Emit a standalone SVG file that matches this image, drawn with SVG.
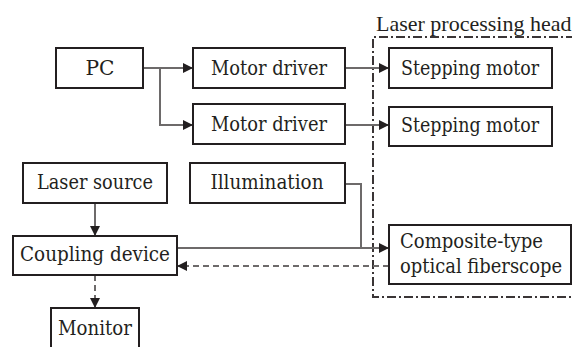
<svg xmlns="http://www.w3.org/2000/svg" width="572" height="347" viewBox="0 0 572 347">
<defs>
<marker id="ah" markerUnits="userSpaceOnUse" markerWidth="10" markerHeight="10" viewBox="0 0 10 10" refX="10" refY="5" orient="auto">
<path d="M0,0 L10,5 L0,10 Z" fill="#231f20"/>
</marker>
<style>
.box{fill:#fff;stroke:#231f20;stroke-width:2}
.t{font-family:"DejaVu Serif","Liberation Serif",serif;font-size:20px;fill:#231f20}
.h{font-family:"Liberation Serif","Times New Roman",serif;font-size:22px;fill:#231f20}
.c{text-anchor:middle}
.e{text-anchor:end}
.ln{fill:none;stroke:#6d6a6a;stroke-width:2}
.dash{stroke-dasharray:6,4}
.frame{fill:none;stroke:#3a3536;stroke-width:2;stroke-dasharray:9,3,2,3}
</style>
</defs>
<rect width="572" height="347" fill="#fff"/>
<g id="frame">
<path class="frame" d="M575,37 H373 V297 H575"/>
<text class="h" x="376" y="31">Laser processing head</text>
</g>
<g id="connectors">
<path class="ln" d="M143,68 H193" marker-end="url(#ah)"/>
<path class="ln" d="M160,68 V125 H193" marker-end="url(#ah)"/>
<path class="ln" d="M345,68 H389" marker-end="url(#ah)"/>
<path class="ln" d="M345,125 H389" marker-end="url(#ah)"/>
<path class="ln" d="M95,203 V236" marker-end="url(#ah)"/>
<path class="ln dash" d="M95,275 V308" marker-end="url(#ah)"/>
<path class="ln" d="M177,248 H389" marker-end="url(#ah)"/>
<path class="ln" d="M345,184 H361 V248"/>
<path class="ln dash" d="M389,266 H177" marker-end="url(#ah)"/>
</g>
<g id="pc"><rect class="box" x="56" y="48" width="87" height="40"/><text class="t c" x="100" y="75" textLength="29" lengthAdjust="spacingAndGlyphs">PC</text></g>
<g id="motor-driver-1"><rect class="box" x="193" y="48" width="152" height="40"/><text class="t c" x="269" y="75" textLength="116" lengthAdjust="spacingAndGlyphs">Motor driver</text></g>
<g id="motor-driver-2"><rect class="box" x="193" y="104" width="152" height="40"/><text class="t c" x="269" y="131" textLength="116" lengthAdjust="spacingAndGlyphs">Motor driver</text></g>
<g id="stepping-motor-1"><rect class="box" x="389" y="48" width="163" height="40"/><text class="t c" x="470" y="75" textLength="138" lengthAdjust="spacingAndGlyphs">Stepping motor</text></g>
<g id="stepping-motor-2"><rect class="box" x="389" y="107" width="163" height="39"/><text class="t c" x="470" y="132" textLength="138" lengthAdjust="spacingAndGlyphs">Stepping motor</text></g>
<g id="laser-source"><rect class="box" x="23" y="163" width="144" height="40"/><text class="t c" x="95" y="189" textLength="116" lengthAdjust="spacingAndGlyphs">Laser source</text></g>
<g id="illumination"><rect class="box" x="190" y="163" width="155" height="40"/><text class="t c" x="267" y="189" textLength="113" lengthAdjust="spacingAndGlyphs">Illumination</text></g>
<g id="coupling-device"><rect class="box" x="13" y="236" width="164" height="39"/><text class="t c" x="95" y="261" textLength="150" lengthAdjust="spacingAndGlyphs">Coupling device</text></g>
<g id="composite"><rect class="box" x="389" y="225" width="182" height="59"/><text class="t" x="400" y="248" textLength="143" lengthAdjust="spacingAndGlyphs">Composite-type</text><text class="t e" x="562" y="273" textLength="162" lengthAdjust="spacingAndGlyphs">optical fiberscope</text></g>
<g id="monitor"><rect class="box" x="51" y="308" width="88" height="50"/><text class="t c" x="95" y="335" textLength="74" lengthAdjust="spacingAndGlyphs">Monitor</text></g>
</svg>
